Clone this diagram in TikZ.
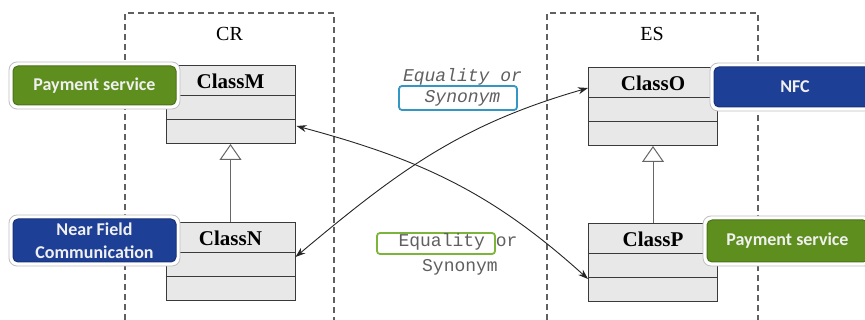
\documentclass[tikz,border=0pt]{standalone}
\usepackage{fontspec}
\setmainfont{Liberation Serif}
\newfontfamily\calib{Carlito}
\newfontfamily\monof{Liberation Mono}
\usetikzlibrary{arrows.meta,calc}
\definecolor{pgreen}{HTML}{5E8F1E}
\definecolor{pgreenb}{HTML}{4A7317}
\definecolor{pblue}{HTML}{1E3F96}
\definecolor{pblueb}{HTML}{142C70}
\definecolor{clsfill}{HTML}{E8E8E8}
\definecolor{clsline}{HTML}{3A3A3A}
\definecolor{eqblue}{HTML}{3496C4}
\definecolor{eqgreen}{HTML}{7CB53A}
\definecolor{eqtext}{HTML}{606060}
\definecolor{dashcol}{HTML}{606060}
\tikzset{
  dashbox/.style={draw=dashcol, line width=1.1pt, dash pattern=on 6pt off 4pt},
  regionlabel/.style={font=\fontsize{20}{22}\selectfont, inner sep=0pt},
  cls/.style={draw=clsline, fill=clsfill, line width=1pt, minimum width=129pt, minimum height=78pt, inner sep=0pt},
  clsdiv/.style={draw=clsline, line width=1pt},
  clstitle/.style={font=\fontsize{21}{23}\selectfont\bfseries, inner sep=0pt},
  gen/.style={draw=gray!80!black, line width=1pt, -{Triangle[open, length=16pt, width=22pt, fill=white]}},
  rel/.style={draw=black!85, line width=0.9pt, {Stealth[length=10pt, width=7pt]}-{Stealth[length=10pt, width=7pt]}},
  halo/.style={draw=black!25, fill=white, rounded corners=8pt, line width=0.8pt, inner sep=0pt},
  badge/.style={fill=#1, draw=#1!80!black, line width=1pt, rounded corners=5pt, text=white!94!black, inner sep=0pt, align=center,
    font=\calib\bfseries\fontsize{18}{23}\selectfont},
  eqlab/.style={text=eqtext, inner sep=0pt, font=\monof\fontsize{18}{20}\selectfont},
  eqbox/.style={draw=#1, line width=1.8pt, rounded corners=3pt, inner sep=0pt},
}
\begin{document}
\begin{tikzpicture}[x=1pt,y=-1pt]
\clip (0,0) rectangle (865,320);
\fill[white] (0,0) rectangle (865,320);
% dashed regions
\draw[dashbox] (125,330) -- (125,13) -- (334,13) -- (334,330);
\draw[dashbox] (547,330) -- (547,13) -- (758,13) -- (758,330);
\node[regionlabel] (cr) at (229.5,33.5) {CR};
\node[regionlabel] (es) at (652,33.5) {ES};
% classes
\node[cls] (M) at (230.5,104.5) {};
\node[cls] (N) at (230.5,261.5) {};
\node[cls] (O) at (653,106.5) {};
\node[cls] (P) at (653,262.5) {};
\foreach \c in {M,N,O,P}{
  \draw[clsdiv] ($(\c.north west)+(0,31)$) -- ($(\c.north east)+(0,31)$);
  \draw[clsdiv] ($(\c.north west)+(0,55)$) -- ($(\c.north east)+(0,55)$);
}
\node[clstitle] (Mt) at ($(M.north)+(0,16)$) {ClassM};
\node[clstitle] (Nt) at ($(N.north)+(0,16)$) {ClassN};
\node[clstitle] (Ot) at ($(O.north)+(0,16)$) {ClassO};
\node[clstitle] (Pt) at ($(P.north)+(0,16)$) {ClassP};
% generalizations
\draw[gen] (N.north) -- (M.south);
\draw[gen] (P.north) -- (O.south);
% badges
\node[halo, minimum width=171pt, minimum height=47pt] (h1) at (94.5,85.5) {};
\node[badge=pgreen, minimum width=163pt, minimum height=39pt] (ps1) at (94.5,85.5) {Payment service};
\node[halo, minimum width=171pt, minimum height=51pt] (h2) at (94.5,240.5) {};
\node[badge=pblue, minimum width=163pt, minimum height=43pt] (nfc1) at (94.5,240.5) {Near Field\\Communication};
\node[halo, minimum width=170pt, minimum height=48pt] (h3) at (795,87) {};
\node[badge=pblue, minimum width=162pt, minimum height=40pt] (nfc2) at (795,87) {NFC};
\node[halo, minimum width=169pt, minimum height=50pt] (h4) at (787.5,241) {};
\node[badge=pgreen, minimum width=161pt, minimum height=42pt] (ps2) at (787.5,241) {Payment service};
% relation endpoints
\coordinate (Mr) at ($(M.north east)+(1,61)$);
\coordinate (Nr) at ($(N.north east)+(0,35)$);
\coordinate (Ol) at ($(O.north west)+(0,21)$);
\coordinate (Pl) at ($(P.north west)+(0,56)$);
\draw[rel] (Nr) .. controls +(102,-85.5) and +(-128,36.7) .. (Ol);
\draw[rel] (Mr) .. controls +(124.6,33.4) and +(-95.8,-86.4) .. (Pl);
% equality labels
\node[eqbox=eqblue, minimum width=118pt, minimum height=24pt] (b1) at (458,98) {};
\node[eqlab, font=\monof\itshape\fontsize{18}{20}\selectfont] (e1) at (462.5,77) {Equality or};
\node[eqlab, font=\monof\itshape\fontsize{18}{20}\selectfont] (s1) at (462.5,98) {Synonym};
\node[eqbox=eqgreen, minimum width=118pt, minimum height=21pt] (b2) at (436,243.5) {};
\node[eqlab] (e2) at (458,242) {Equality or};
\node[eqlab] (s2) at (460,267) {Synonym};
\end{tikzpicture}
\end{document}
